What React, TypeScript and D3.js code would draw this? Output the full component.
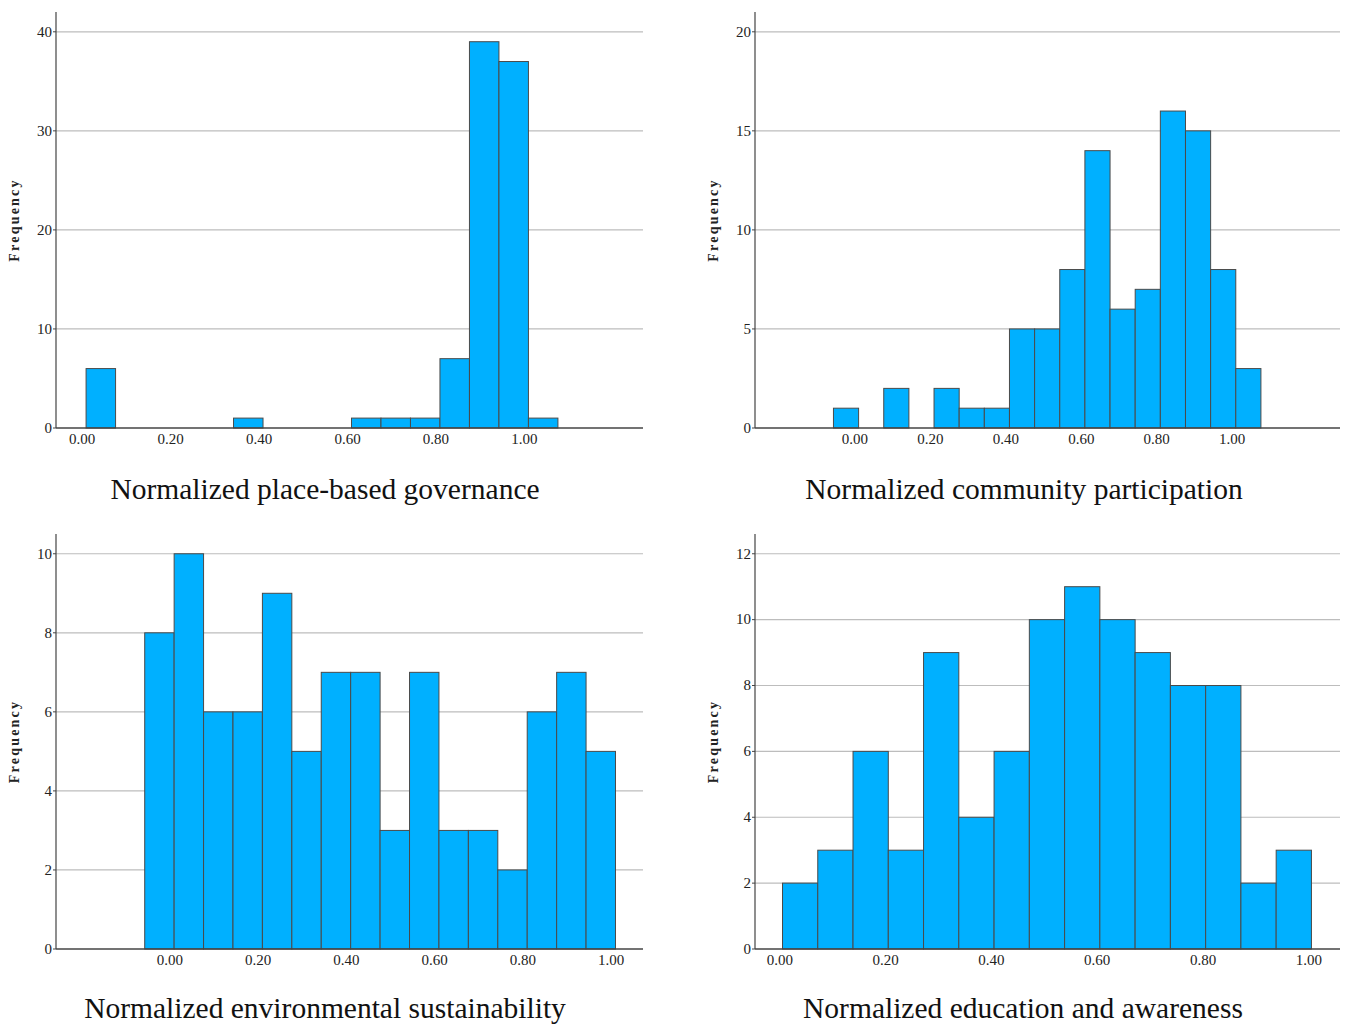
import React from "react";
import * as d3 from "d3";

// histogram bins are 1/15 wide; each panel's first bin starts at a slightly different point
const binWidth = 1 / 15;

const govStart = 0.009;
const govCounts = [6, 0, 0, 0, 0, 1, 0, 0, 0, 1, 1, 1, 7, 39, 37, 1];

const partStart = -0.057;
const partCounts = [1, 0, 2, 0, 2, 1, 1, 5, 5, 8, 14, 6, 7, 16, 15, 8, 3];

const envStart = -0.057;
const envCounts = [8, 10, 6, 6, 9, 5, 7, 7, 3, 7, 3, 3, 2, 6, 7, 5];

const eduStart = 0.005;
const eduCounts = [2, 3, 6, 3, 9, 4, 6, 10, 11, 10, 9, 8, 8, 2, 3];

const xTicks = [0, 0.2, 0.4, 0.6, 0.8, 1.0];
const govYTicks = [0, 10, 20, 30, 40];
const partYTicks = [0, 5, 10, 15, 20];
const envYTicks = [0, 2, 4, 6, 8, 10];
const eduYTicks = [0, 2, 4, 6, 8, 10, 12];

const titles = [
  "Normalized place-based governance",
  "Normalized community participation",
  "Normalized environmental sustainability",
  "Normalized education and awareness",
];

const serif = "'Liberation Serif', 'Times New Roman', serif";
const barFill = "#00b0ff";

type PanelProps = {
  left: number;
  right: number;
  top: number;
  bottom: number;
  xDomain: [number, number];
  yMax: number;
  yTicks: number[];
  start: number;
  counts: number[];
  title: string;
  titleX: number;
  titleY: number;
};

function Histogram(p: PanelProps) {
  const x = d3.scaleLinear().domain(p.xDomain).range([p.left, p.right]);
  const y = d3.scaleLinear().domain([0, p.yMax]).range([p.bottom, p.top]);
  const fmt = d3.format(".2f");
  const midY = (p.top + p.bottom) / 2;

  return (
    <g>
      {/* gridlines */}
      {p.yTicks.filter((t) => t > 0).map((t) => (
        <line key={"g" + t} x1={p.left} x2={p.right} y1={y(t)} y2={y(t)} stroke="#bdbdbd" strokeWidth={1.2} />
      ))}
      {/* bars */}
      {p.counts.map((c, i) =>
        c > 0 ? (
          <rect
            key={"b" + i}
            x={x(p.start + i * binWidth)}
            y={y(c)}
            width={x(p.start + (i + 1) * binWidth) - x(p.start + i * binWidth)}
            height={y(0) - y(c)}
            fill={barFill}
            stroke="#4a4a4a"
            strokeWidth={1}
          />
        ) : null
      )}
      {/* axes */}
      <line x1={p.left} x2={p.left} y1={p.top} y2={p.bottom} stroke="#444" strokeWidth={1.2} />
      <line x1={p.left} x2={p.right} y1={p.bottom} y2={p.bottom} stroke="#444" strokeWidth={1.5} />
      {p.yTicks.map((t) => (
        <g key={"y" + t}>
          <line x1={p.left - 3} x2={p.left} y1={y(t)} y2={y(t)} stroke="#444" />
          <text x={p.left - 4} y={y(t)} dy="0.32em" textAnchor="end" fontFamily={serif} fontSize={15} fill="#222">
            {t}
          </text>
        </g>
      ))}
      {xTicks.map((t) => (
        <text key={"x" + t} x={x(t)} y={p.bottom + 16} textAnchor="middle" fontFamily={serif} fontSize={15} fill="#222">
          {fmt(t)}
        </text>
      ))}
      <text
        transform={`translate(${p.left - 37},${midY}) rotate(-90)`}
        textAnchor="middle"
        fontFamily={serif}
        fontWeight="bold"
        fontSize={14}
        letterSpacing={2.2}
        fill="#222"
      >
        Frequency
      </text>
      <text x={p.titleX} y={p.titleY} textAnchor="middle" fontFamily={serif} fontSize={29.5} fill="#111">
        {p.title}
      </text>
    </g>
  );
}

export default function App() {
  return (
    <svg
      width={1348}
      height={1025}
      style={{ position: "absolute", left: 0, top: 0, background: "#fff" }}
    >
      <Histogram left={56} right={643} top={12} bottom={428} xDomain={[-0.059, 1.268]} yMax={42}
        yTicks={govYTicks} start={govStart} counts={govCounts} title={titles[0]} titleX={325} titleY={499} />
      <Histogram left={755} right={1340} top={12} bottom={428} xDomain={[-0.265, 1.286]} yMax={21}
        yTicks={partYTicks} start={partStart} counts={partCounts} title={titles[1]} titleX={1024} titleY={499} />
      <Histogram left={56} right={643} top={534} bottom={949} xDomain={[-0.258, 1.072]} yMax={10.5}
        yTicks={envYTicks} start={envStart} counts={envCounts} title={titles[2]} titleX={325} titleY={1018} />
      <Histogram left={755} right={1340} top={534} bottom={949} xDomain={[-0.047, 1.059]} yMax={12.6}
        yTicks={eduYTicks} start={eduStart} counts={eduCounts} title={titles[3]} titleX={1023} titleY={1018} />
    </svg>
  );
}
